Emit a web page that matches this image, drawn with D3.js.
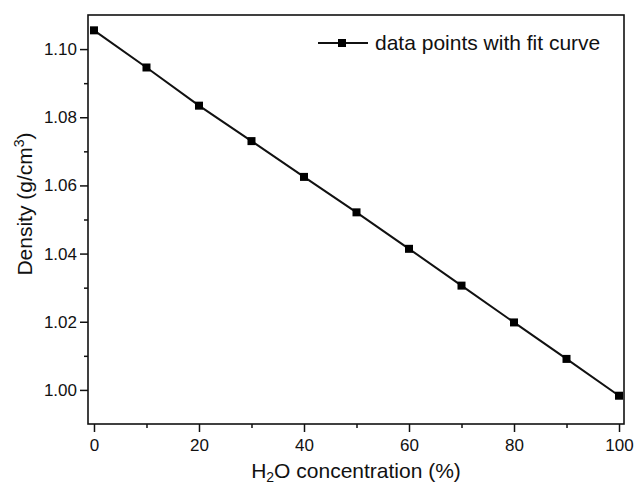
<!DOCTYPE html>
<html>
<head>
<meta charset="utf-8">
<script src="https://cdn.jsdelivr.net/npm/d3@7"></script>
<style>
  html, body { margin: 0; padding: 0; background: #fff; }
  svg { display: block; font-family: "Liberation Sans", Arial, sans-serif; }
</style>
</head>
<body>
<svg id="chart"></svg>
<script>
const concentration = [0, 10, 20, 30, 40, 50, 60, 70, 80, 90, 100];
const density = [1.1055, 1.0946, 1.0834, 1.0730, 1.0625, 1.0521, 1.0414, 1.0306, 1.0198, 1.0091, 0.9983];
const xMajorTicks = [0, 20, 40, 60, 80, 100];
const xMinorTicks = [10, 30, 50, 70, 90];
const yMajorTicks = [1.00, 1.02, 1.04, 1.06, 1.08, 1.10];
const yMinorTicks = [1.01, 1.03, 1.05, 1.07, 1.09];
const legendLabel = 'data points with fit curve';

const width = 634;
const height = 487;
const margin = { top: 15, right: 10, bottom: 63, left: 88 };
const ink = '#111';

const svg = d3.select('#chart').attr('width', width).attr('height', height);

const x = d3.scaleLinear().domain([-1.14, 100.95]).range([margin.left, width - margin.right]);
const y = d3.scaleLinear().domain([0.990, 1.110]).range([height - margin.bottom, margin.top]);

const styleAxis = (g) => {
  g.select('.domain').remove();
  g.selectAll('.tick line').attr('stroke', ink).attr('stroke-width', 1.5);
  g.selectAll('.tick text').attr('fill', ink).style('font-size', '17px');
};

// x axis, major + minor
svg.append('g')
  .attr('transform', `translate(0,${y.range()[0]})`)
  .call(d3.axisBottom(x).tickValues(xMajorTicks).tickSize(8).tickPadding(7).tickFormat(d3.format('d')))
  .call(styleAxis);
svg.append('g')
  .attr('transform', `translate(0,${y.range()[0]})`)
  .call(d3.axisBottom(x).tickValues(xMinorTicks).tickSize(4).tickFormat(''))
  .call(styleAxis);

// y axis, major + minor
svg.append('g')
  .attr('transform', `translate(${x.range()[0]},0)`)
  .call(d3.axisLeft(y).tickValues(yMajorTicks).tickSize(8).tickPadding(3).tickFormat(d3.format('.2f')))
  .call(styleAxis);
svg.append('g')
  .attr('transform', `translate(${x.range()[0]},0)`)
  .call(d3.axisLeft(y).tickValues(yMinorTicks).tickSize(4).tickFormat(''))
  .call(styleAxis);

// frame
svg.append('rect')
  .attr('x', x.range()[0])
  .attr('y', y.range()[1])
  .attr('width', x.range()[1] - x.range()[0])
  .attr('height', y.range()[0] - y.range()[1])
  .attr('fill', 'none')
  .attr('stroke', ink)
  .attr('stroke-width', 1.6);

// data line + markers
const pts = concentration.map((c, i) => [c, density[i]]);
svg.append('path')
  .datum(pts)
  .attr('fill', 'none')
  .attr('stroke', ink)
  .attr('stroke-width', 2)
  .attr('d', d3.line().x((d) => x(d[0])).y((d) => y(d[1])));

const m = 8;
svg.append('g')
  .selectAll('rect')
  .data(pts)
  .join('rect')
  .attr('x', (d) => x(d[0]) - m / 2)
  .attr('y', (d) => y(d[1]) - m / 2)
  .attr('width', m)
  .attr('height', m)
  .attr('fill', '#000');

// legend
const lg = svg.append('g').attr('transform', 'translate(318,43)');
lg.append('line').attr('x1', 0).attr('x2', 50).attr('stroke', ink).attr('stroke-width', 2);
lg.append('rect').attr('x', 24 - m / 2).attr('y', -m / 2).attr('width', m).attr('height', m).attr('fill', '#000');
lg.append('text')
  .attr('x', 57)
  .attr('dy', '0.35em')
  .attr('fill', ink)
  .style('font-size', '21px')
  .text(legendLabel);

// axis titles
const xt = svg.append('text')
  .attr('x', (x.range()[0] + x.range()[1]) / 2)
  .attr('y', 478)
  .attr('text-anchor', 'middle')
  .attr('fill', ink)
  .style('font-size', '21px');
xt.append('tspan').text('H');
xt.append('tspan').attr('dy', 4).style('font-size', '14px').text('2');
xt.append('tspan').attr('dy', -4).text('O concentration (%)');

const yt = svg.append('text')
  .attr('transform', 'translate(32,204) rotate(-90)')
  .attr('text-anchor', 'middle')
  .attr('fill', ink)
  .style('font-size', '21px');
yt.append('tspan').text('Density (g/cm');
yt.append('tspan').attr('dy', -8).style('font-size', '14px').text('3');
yt.append('tspan').attr('dy', 8).text(')');
</script>
</body>
</html>
